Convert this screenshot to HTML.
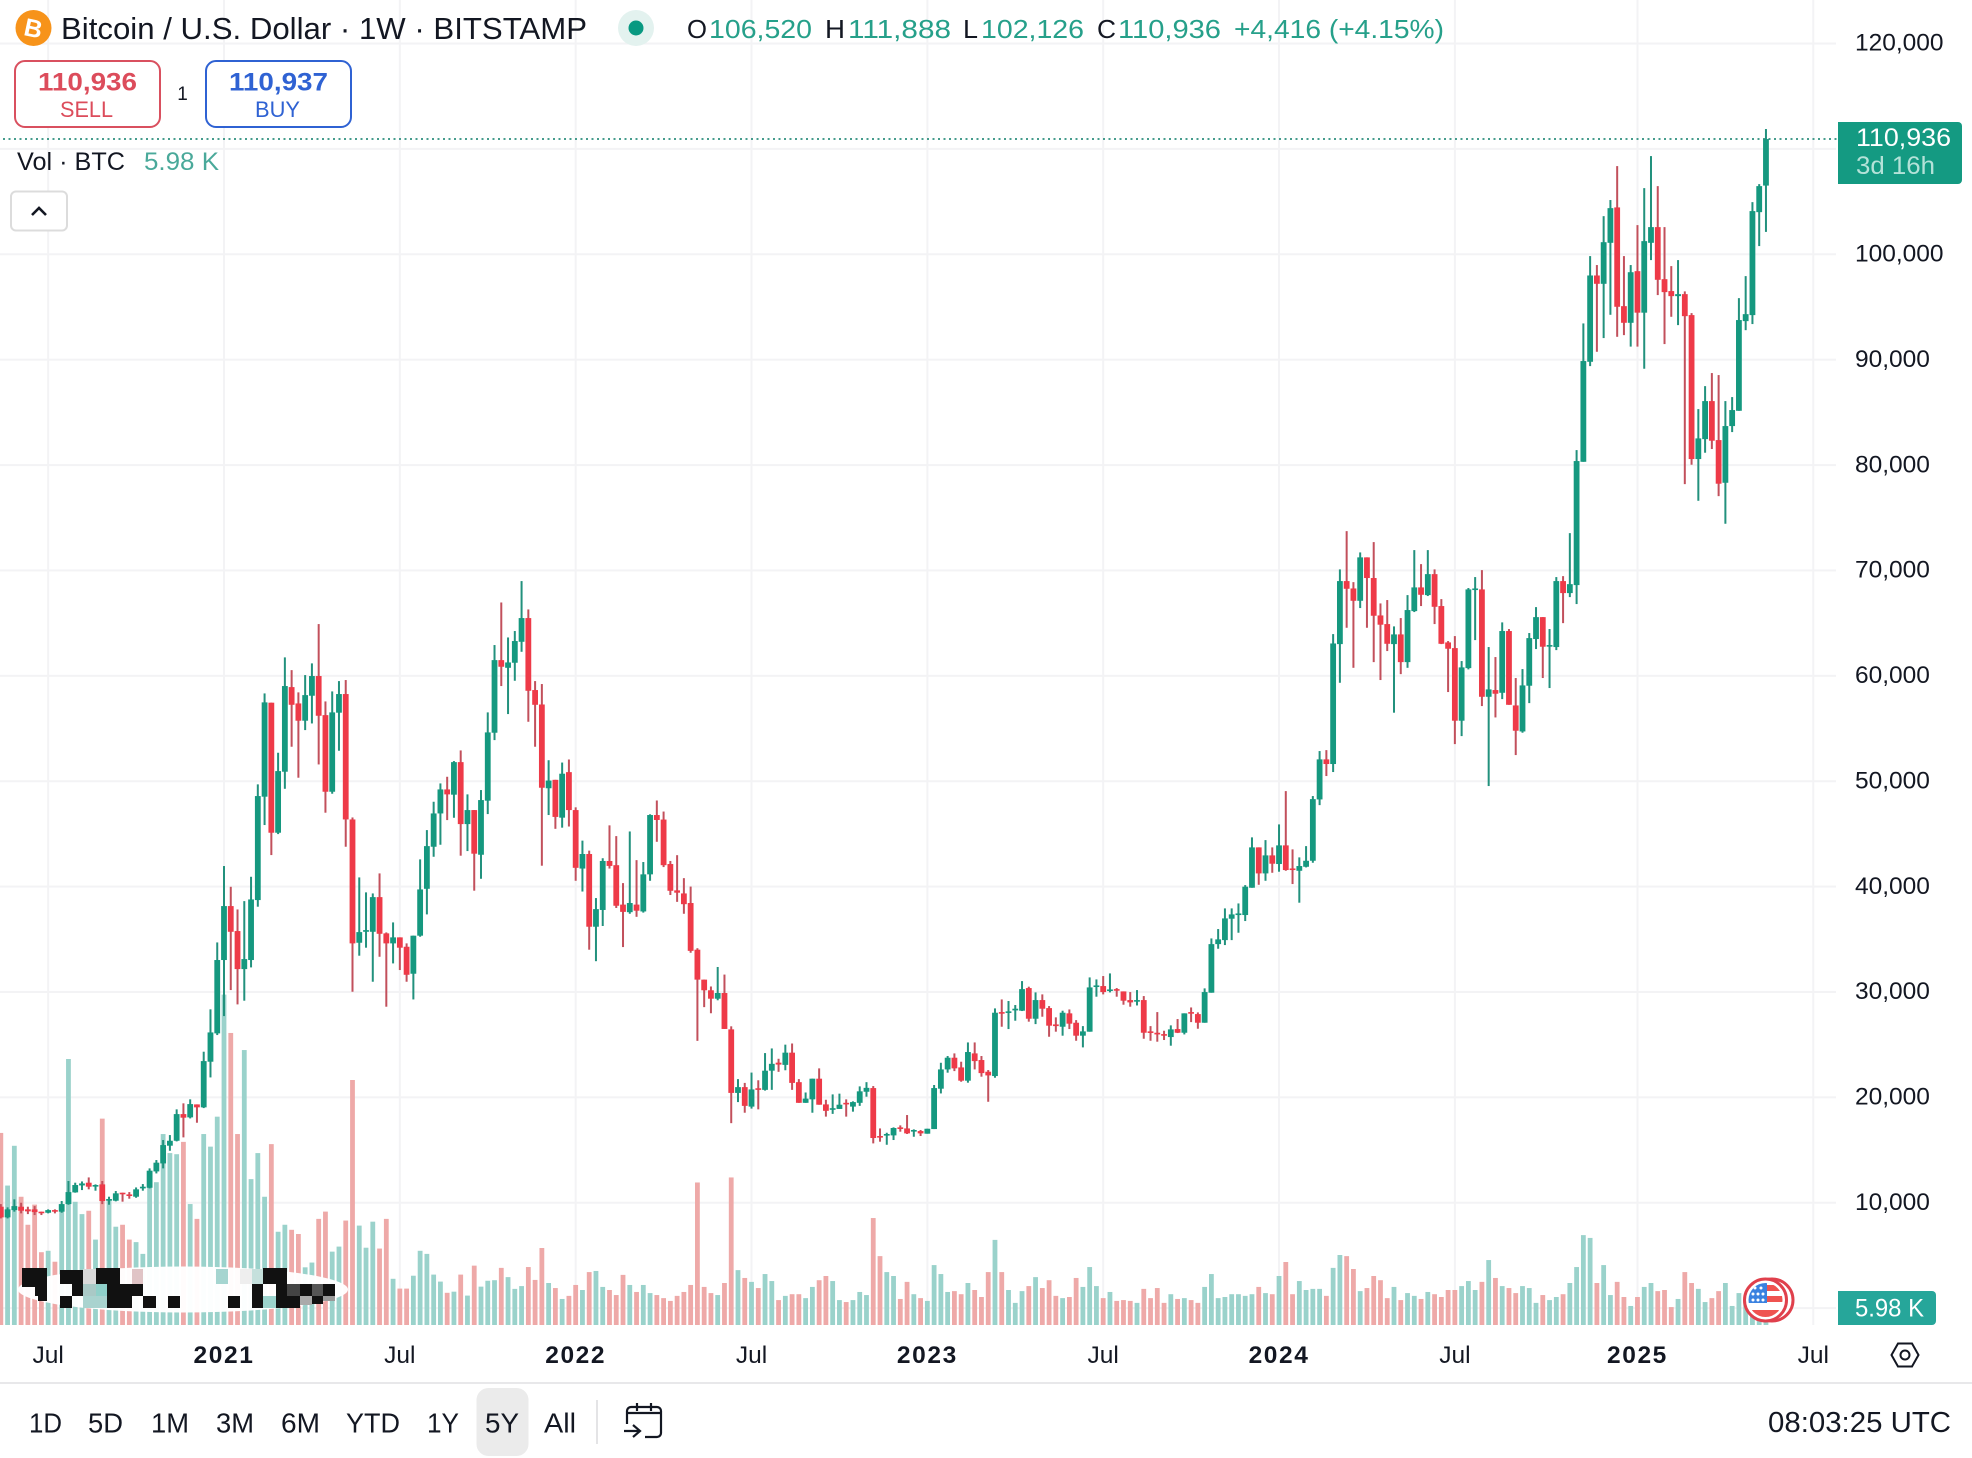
<!DOCTYPE html>
<html lang="en">
<head>
<meta charset="utf-8">
<title>Bitcoin / U.S. Dollar weekly chart</title>
<style>
html,body{margin:0;padding:0;background:#fff;width:1972px;height:1458px;overflow:hidden}
svg{display:block}
text{font-family:"Liberation Sans",sans-serif;fill:#131722}
</style>
</head>
<body>
<svg id="chart" xmlns="http://www.w3.org/2000/svg" width="1972" height="1458" viewBox="0 0 1972 1458">
  <rect x="0" y="0" width="1972" height="1458" fill="#ffffff"/>
  <g id="grid"></g>
  <g id="volumes"></g>
  <g id="candles"></g>

  <g>
    <ellipse cx="183" cy="1289.5" rx="165" ry="23" fill="#ffffff" opacity="0.97"/>
    <g fill="#111111">
      <rect x="22" y="1268" width="25" height="16"/><rect x="60" y="1270" width="23" height="14"/><rect x="96" y="1268" width="24" height="16"/><rect x="263" y="1268" width="24" height="16"/>
      <rect x="22" y="1283" width="14" height="4"/><rect x="35" y="1284" width="12" height="12"/><rect x="72" y="1284" width="11" height="12"/><rect x="107" y="1284" width="36" height="12"/><rect x="252" y="1284" width="11" height="12"/><rect x="276" y="1284" width="11" height="12"/><rect x="300" y="1284" width="12" height="12"/><rect x="323" y="1284" width="12" height="12"/>
      <rect x="60" y="1296" width="12" height="12"/><rect x="107" y="1296" width="25" height="12"/><rect x="143" y="1296" width="13" height="12"/><rect x="168" y="1296" width="12" height="12"/><rect x="228" y="1296" width="12" height="12"/><rect x="252" y="1296" width="11" height="12"/><rect x="276" y="1296" width="24" height="12"/><rect x="312" y="1296" width="11" height="8"/>
      <rect x="38" y="1296" width="9" height="5"/>
    </g>
    <rect x="83" y="1269" width="13" height="15" fill="#d9d9d9"/>
    <rect x="132" y="1269" width="11" height="15" fill="#e0c4c6"/>
    <rect x="216" y="1269" width="12" height="15" fill="#a5d5d0"/>
    <rect x="240" y="1269" width="12" height="15" fill="#eeeeee"/>
    <rect x="252" y="1269" width="11" height="15" fill="#c5e0dc"/>
    <rect x="287" y="1284" width="13" height="12" fill="#444444"/>
    <rect x="312" y="1284" width="11" height="12" fill="#555555"/>
    <rect x="83" y="1284" width="13" height="12" fill="#a9c9c6"/>
    <rect x="96" y="1284" width="11" height="12" fill="#8fd0c9"/>
    <rect x="83" y="1296" width="24" height="12" fill="#a9d3cf"/>
    <rect x="263" y="1296" width="13" height="12" fill="#9bd2cb"/>
    <rect x="300" y="1296" width="12" height="9" fill="#aaaaaa"/>
    <rect x="323" y="1296" width="12" height="5" fill="#999999"/>
  </g>

  <line x1="3" y1="139" x2="1837" y2="139" stroke="#2d8f7d" stroke-width="1.8" stroke-dasharray="2 3.5"/>

  <g id="priceAxis"></g>
  <g id="timeAxis"></g>

  <g>
    <circle cx="33.5" cy="28" r="18" fill="#f7931a"/>
    <text x="33.5" y="37" text-anchor="middle" font-size="25" font-weight="700" style="fill:#ffffff" transform="rotate(12 33.5 28)">B</text>
  </g>
  <text x="61" y="39" font-size="30.5" textLength="526" lengthAdjust="spacingAndGlyphs">Bitcoin / U.S. Dollar · 1W · BITSTAMP</text>
  <g>
    <circle cx="636" cy="28" r="18" fill="#e3f2ef"/>
    <circle cx="636" cy="28" r="7.5" fill="#089981"/>
  </g>

  <g font-size="26">
    <text x="687" y="38" textLength="20" lengthAdjust="spacingAndGlyphs">O</text>
    <text x="709" y="38" textLength="103" lengthAdjust="spacingAndGlyphs" style="fill:#26a08a">106,520</text>
    <text x="825" y="38" textLength="20" lengthAdjust="spacingAndGlyphs">H</text>
    <text x="848" y="38" textLength="103" lengthAdjust="spacingAndGlyphs" style="fill:#26a08a">111,888</text>
    <text x="963" y="38" textLength="15" lengthAdjust="spacingAndGlyphs">L</text>
    <text x="981" y="38" textLength="103" lengthAdjust="spacingAndGlyphs" style="fill:#26a08a">102,126</text>
    <text x="1097" y="38" textLength="19" lengthAdjust="spacingAndGlyphs">C</text>
    <text x="1118" y="38" textLength="103" lengthAdjust="spacingAndGlyphs" style="fill:#26a08a">110,936</text>
    <text x="1234" y="38" textLength="210" lengthAdjust="spacingAndGlyphs" style="fill:#26a08a">+4,416 (+4.15%)</text>
  </g>

  <g>
    <rect x="15" y="61" width="145" height="66" rx="10" fill="#ffffff" stroke="#d9505f" stroke-width="2"/>
    <text x="38" y="90.5" font-size="25" font-weight="700" textLength="99" lengthAdjust="spacingAndGlyphs" style="fill:#dc4c5b">110,936</text>
    <text x="60" y="117" font-size="22" textLength="53" lengthAdjust="spacingAndGlyphs" style="fill:#dc4c5b">SELL</text>
  </g>
  <text x="182.6" y="100" font-size="19" text-anchor="middle">1</text>
  <g>
    <rect x="206" y="61" width="145" height="66" rx="10" fill="#ffffff" stroke="#2f62d3" stroke-width="2"/>
    <text x="229" y="90.5" font-size="25" font-weight="700" textLength="99" lengthAdjust="spacingAndGlyphs" style="fill:#2f62d3">110,937</text>
    <text x="255" y="117" font-size="22" textLength="45" lengthAdjust="spacingAndGlyphs" style="fill:#2f62d3">BUY</text>
  </g>

  <text x="17" y="170" font-size="25" textLength="108" lengthAdjust="spacingAndGlyphs">Vol · BTC</text>
  <text x="144" y="170" font-size="25" textLength="75" lengthAdjust="spacingAndGlyphs" style="fill:#4aa99a">5.98 K</text>
  <g>
    <rect x="11" y="191.5" width="56" height="39" rx="5" fill="#ffffff" stroke="#dcdcdc" stroke-width="2"/>
    <path d="M32 215 L39 208 L46 215" fill="none" stroke="#131722" stroke-width="2.6"/>
  </g>

  <g>
    <path d="M1838 122 H1958 a4 4 0 0 1 4 4 V180 a4 4 0 0 1 -4 4 H1838 Z" fill="#149a82"/>
    <text x="1856" y="146" font-size="25" textLength="95" lengthAdjust="spacingAndGlyphs" style="fill:#ffffff">110,936</text>
    <text x="1856" y="174" font-size="25" textLength="79" lengthAdjust="spacingAndGlyphs" style="fill:#b4e2d8">3d 16h</text>
  </g>
  <g>
    <path d="M1838 1291 H1932 a4 4 0 0 1 4 4 V1321 a4 4 0 0 1 -4 4 H1838 Z" fill="#26a69a"/>
    <text x="1855" y="1316.7" font-size="25" textLength="69" lengthAdjust="spacingAndGlyphs" style="fill:#ffffff">5.98 K</text>
  </g>

  <g>
    <defs><clipPath id="flagClip"><circle cx="1765.5" cy="1300" r="17"/></clipPath></defs>
    <circle cx="1772" cy="1300" r="21" fill="#ffffff" stroke="#e0404c" stroke-width="3"/>
    <circle cx="1765.5" cy="1300" r="21" fill="#ffffff" stroke="#e0404c" stroke-width="3"/>
    <g clip-path="url(#flagClip)">
      <rect x="1748" y="1283" width="36" height="34" fill="#ffffff"/>
      <rect x="1765" y="1285" width="19" height="6" fill="#ef5350"/>
      <rect x="1765" y="1296" width="19" height="6" fill="#ef5350"/>
      <rect x="1748" y="1310" width="36" height="7" fill="#ef5350"/>
      <rect x="1748" y="1283" width="19" height="20" fill="#3b82e0"/>
      <circle cx="1755" cy="1288" r="1.5" fill="#fff"/><circle cx="1761" cy="1288" r="1.5" fill="#fff"/>
      <circle cx="1753" cy="1294" r="1.5" fill="#fff"/><circle cx="1758" cy="1294" r="1.5" fill="#fff"/><circle cx="1763" cy="1294" r="1.5" fill="#fff"/>
      <circle cx="1753" cy="1300" r="1.5" fill="#fff"/><circle cx="1758" cy="1300" r="1.5" fill="#fff"/><circle cx="1763" cy="1300" r="1.5" fill="#fff"/>
    </g>
  </g>

  <g>
    <path d="M1891.5 1355 L1898 1343.5 H1912 L1918.5 1355 L1912 1366.5 H1898 Z" fill="none" stroke="#131722" stroke-width="2"/>
    <circle cx="1905" cy="1355" r="4.5" fill="none" stroke="#131722" stroke-width="2"/>
  </g>

  <rect x="0" y="1382" width="1972" height="2" fill="#e8e8ea"/>
  <rect x="476.5" y="1388" width="52" height="68" rx="12" fill="#ebebeb"/>
  <g font-size="27.5">
    <text x="29" y="1432.5" textLength="33" lengthAdjust="spacingAndGlyphs">1D</text>
    <text x="88" y="1432.5" textLength="35" lengthAdjust="spacingAndGlyphs">5D</text>
    <text x="151" y="1432.5" textLength="38" lengthAdjust="spacingAndGlyphs">1M</text>
    <text x="216" y="1432.5" textLength="38" lengthAdjust="spacingAndGlyphs">3M</text>
    <text x="281" y="1432.5" textLength="39" lengthAdjust="spacingAndGlyphs">6M</text>
    <text x="346" y="1432.5" textLength="54" lengthAdjust="spacingAndGlyphs">YTD</text>
    <text x="427" y="1432.5" textLength="32" lengthAdjust="spacingAndGlyphs">1Y</text>
    <text x="485" y="1432.5" textLength="34" lengthAdjust="spacingAndGlyphs">5Y</text>
    <text x="544" y="1432.5" textLength="32" lengthAdjust="spacingAndGlyphs">All</text>
  </g>
  <rect x="596" y="1400" width="2" height="44" fill="#e4e4e6"/>
  <g fill="none" stroke="#131722" stroke-width="2.2">
    <path d="M627 1424 V1411 a4 4 0 0 1 4 -4 H657 a4 4 0 0 1 4 4 V1433 a4 4 0 0 1 -4 4 H645"/>
    <path d="M627 1413 H661"/>
    <path d="M637 1403 V1411 M651 1403 V1411"/>
    <path d="M624 1431 H639 M633 1425 L640 1431 L633 1437"/>
  </g>
  <text x="1768" y="1432" font-size="29" textLength="183" lengthAdjust="spacingAndGlyphs">08:03:25 UTC</text>
</svg>

<script>
const firstWeek = '2020-05-18';
const opens = [9620,8610,9300,9620,9370,9370,9150,9050,9300,9150,9870,10980,11640,11900,11580,11740,10190,10190,10950,10790,10570,11360,11420,12970,13730,15410,15880,18410,18100,19330,19050,23380,26070,
33030,38150,35780,32170,33030,38720,48530,57450,45110,50900,
58930,57380,55740,58110,59980,56270,49000,56500,58270,46370,
34670,35710,35710,39000,35560,34610,35180,34290,31730,35340,
39790,43780,46940,49220,48720,51810,45930,47260,43020,48150,
54600,61490,60760,61240,63230,65480,58650,57280,49330,50130,
46540,50860,47260,41710,43090,36190,37780,42430,42030,38290,
37570,38290,37640,41160,46790,46360,42140,39640,39350,38440,
34010,31170,30160,29360,29900,26450,20420,20970,19120,20860,
20710,22530,23290,23080,24240,21440,19480,19810,21770,19330,
18830,18900,19480,19120,19480,20530,20880,16330,16390,16390,
17150,17050,16770,16800,16550,16990,20820,22650,23760,22840,
21580,24170,23540,22430,22020,28090,28030,28250,28220,30370,
27460,29230,28470,26920,26700,27970,27080,25850,26230,30500,
30560,30120,30270,30050,29230,29100,29230,26260,26130,26000,
25720,26480,26130,28090,27900,27080,29930,34540,34920,36950,
37330,37300,39890,43720,41250,42960,42140,43910,41720,41500,
41880,42450,48270,52070,51630,63010,68990,68290,67120,71240,
69280,65730,64910,63010,63930,61300,66140,68390,67660,69650,
66620,63170,62630,55740,60730,68170,68200,58010,58650,58390,
64250,57190,54720,59060,63490,65570,62790,62730,68990,67850,
68610,80310,89800,97990,97200,101090,104450,95080,93500,98400,
94460,101090,102580,97640,96510,96030,96220,94230,80570,82460,
86070,82370,78320,83700,85150,93660,94230,104000,106520];
const highs = [9870,9560,10320,10000,9620,9680,9150,9370,9370,10160,12060,11900,12020,12400,11740,12060,10570,11110,10950,11010,11450,11770,13260,14050,15950,16420,18860,19430,19810,19330,24330,28350,34700,
41950,39980,37830,38620,40930,49700,58330,57450,52700,61750,
60540,58430,60070,61180,64910,57570,58520,59500,59600,46560,
40870,39450,39350,41250,35650,36600,35180,34610,35340,42580,
45360,48050,49790,50420,51910,52920,48750,47260,49160,56530,
62920,66960,63640,64250,68990,66300,59500,59220,51990,50130,
51770,52060,47520,44360,43410,38910,42690,45810,44790,40330,
45230,42510,42330,46860,48170,47120,42430,42980,40800,40000,
34150,31170,30520,32370,31650,26740,21730,21370,22350,21620,
24200,24640,23660,25000,25110,21730,20460,21770,22750,19770,
20280,20350,19810,19620,21040,21440,21070,17050,16640,17150,
17340,18320,16960,16900,17020,21170,23280,23920,24170,23380,
25210,25210,23920,22590,28440,29290,29140,28760,31030,30500,
29960,29770,28660,27590,28220,28340,27330,26760,31380,31190,
31510,31760,30370,30050,29990,30180,29610,26760,28090,26320,
26830,27430,27970,28530,28060,30340,35080,35970,37930,37930,
38400,40140,44670,43720,44410,43720,45900,49060,43530,42770,
43840,48590,52860,52950,63960,70100,73730,68890,71710,71240,
72690,66870,67190,64690,65480,67660,71930,70600,71930,70100,
67280,63300,63770,61400,68330,69370,70030,62730,61780,65070,
64440,59790,60640,64060,66520,65570,64440,69370,69460,73540,
81420,93440,99830,98980,103620,105150,108370,99830,98980,102770,
106280,109320,106470,102580,98880,99450,96480,94420,85310,87490,
88730,88540,86070,86450,95840,97930,104950,106660,111888];
const lows = [8510,8510,9150,8990,8920,8830,8830,8990,8990,9050,9810,10950,11200,11270,11140,9870,9810,10130,10100,10380,10470,11140,11360,12780,13260,14930,15820,16200,18000,17590,18980,21890,25910,
27710,30180,28820,29170,32330,38090,45840,42990,44980,49280,
53270,50330,54850,55480,51590,47010,48810,52890,43780,30020,
33440,34200,30970,33340,28600,32710,32080,30970,29290,35240,
37360,42830,43970,46310,46530,42930,43370,39610,40740,46880,
53900,59030,56370,59530,62280,55640,53270,41980,46790,45480,
45590,45700,40550,39530,34010,32920,36260,41710,37970,34260,
37420,37130,37530,40550,44250,41850,39200,38550,37420,33720,
25360,28560,27980,29210,26490,17550,19550,18540,18930,18860,
20640,20710,22420,22570,20710,19480,19480,18540,19300,18170,
18430,18900,18170,18640,19190,20060,15630,15790,15500,15950,
16740,16520,16260,16330,16550,16990,20370,22340,22490,21480,
21390,22650,21960,19580,21860,26700,26480,27270,28190,27180,
26950,27650,25750,26230,25850,26480,25370,24740,26230,29550,
29770,29960,29550,28790,28600,28720,25560,25370,25280,25440,
24900,26100,25970,27140,26510,27080,29930,34100,34450,34920,
35620,36730,39890,40170,40550,41310,41410,41500,40240,38470,
41820,42260,47730,50490,50870,59340,64560,60760,66430,64560,
61300,59600,62350,56500,60160,60760,66050,66620,67570,64910,
63010,58460,53520,54280,60610,63390,57130,49540,56050,57790,
57250,52480,54600,57410,62540,59790,58840,62440,65000,67470,
66810,80310,89390,90750,92050,94260,92170,92330,91240,91240,
89140,99450,96130,91480,94070,93280,78190,80030,76610,81170,
81520,77050,74430,83130,85150,92800,93380,100780,102126];
const closes = [8610,9370,9680,9240,9180,9110,9050,9300,9210,9870,11010,11680,11830,11520,11680,10160,10350,10890,10820,10660,11270,11520,13040,13800,15470,15880,18410,18070,19360,19050,23440,26160,33030,
38150,35710,32170,33120,38780,48590,57480,45110,50960,59030,
57250,55740,58170,59980,56210,49000,56530,58270,46370,34610,
35680,35870,39000,35520,34610,35180,34200,31630,35340,39730,
43840,46940,49220,48750,51810,45930,47260,43120,48210,54630,
61490,60860,61270,63300,65480,58580,57250,49380,50060,46610,
50710,47260,41780,43090,36190,37860,42430,41960,38180,37600,
38440,37710,41160,46790,46320,42030,39600,39420,38330,33900,
31170,30160,29360,29900,26490,20420,20970,19190,20750,20710,
22530,23180,23110,24240,21370,19480,19880,21770,19300,18720,
18970,19300,19330,19550,20570,20900,16140,16200,16520,17090,
17020,16580,16900,16580,17020,20880,22650,23760,22750,21580,
24300,23440,22300,22080,28030,27970,28160,28410,30270,27460,
29230,28410,26800,26760,28030,26990,25850,26260,30430,30620,
29990,30240,30150,29170,29010,29230,26130,26160,25970,25850,
26450,26130,27970,27970,27080,29990,34540,34990,36980,37360,
37450,39990,43720,41250,42960,42170,43910,41570,41600,41950,
42450,48300,52070,51630,63070,68990,68260,67120,71240,69280,
65700,64850,63040,63930,61300,66240,68390,67690,69650,66550,
63040,62570,55740,60800,68200,68290,58010,58710,58300,64250,
57250,54790,59090,63580,65570,62760,62920,68990,67850,68700,
80380,89870,97990,97200,101150,104380,95020,93500,98300,94460,
101250,102580,97580,96410,96030,96220,94130,80570,82530,86070,
82310,78230,83700,85220,93760,94320,104100,106470,110936];
const volumes = [68.6,49.8,64,45.8,35.8,43,26,26.5,22.6,41.4,95,44,39.6,40.8,30.5,73.7,44.4,35.1,35.8,30.5,29.6,25.4,55,51,68.2,61.4,61,65.4,43.2,37.9,68.2,63.7,74.4,
118,104.3,68.2,98.2,52.1,61.4,45.8,64.6,33.3,35.8,
34,32.5,20.6,22.3,37.9,40.5,26.2,28,37.3,87.5,
35.5,27.6,36.9,27.3,37.9,16.5,13,13,17.6,26.5,
25.4,18,15.5,11.5,11.9,18,10.5,21.2,13.7,15.8,
16,20.4,17.1,12.9,13.9,20.7,16.1,27.5,15,13.2,
9.3,10.4,14.3,12.5,18.9,19.3,13.6,12.5,10.7,17.9,
14.3,11.8,14.3,11.4,10.7,9.6,8.6,10.4,11.8,14.3,
50.9,13.6,11.4,10.7,15,52.7,19.6,16.8,15.4,13.2,
18.2,15.7,8.9,10.4,11,11,9.6,13.6,16,17.5,
15.7,8.9,8.2,8.9,11.8,10.7,38.2,24.6,18.9,17.5,
9.3,15.4,11,9.6,8.6,21.4,18.2,11.8,12.1,11,
15,12.5,10,18.9,30.4,18.9,12.5,7.9,12.1,13.9,
17.1,13.2,16,10.4,9.6,10,16.8,13.6,20.7,13.9,
9.6,11.8,8.6,8.9,8.6,7.9,12.9,9.6,13.2,7.9,
11,9.3,9.6,8.9,7.9,13.6,18.2,9.6,10,11,
11,10.4,11,13.6,11.4,11,17.5,22.5,11,15.7,
12.5,12.9,12.9,10.4,20.4,25,24.6,20,12.1,13.2,
17.5,16,9.6,13.6,8.9,11.4,10.4,9.3,11.8,11,
10,12.5,12.5,13.9,15.7,12.5,15.4,23.2,16.8,13.9,
13.2,11.4,13.9,13.2,7.9,10.7,8.9,10,11,15,
20.7,32.1,31.1,15,21.4,10.7,15.4,10,6.8,10,
13.6,15,12.1,12.5,6.4,9.3,18.9,15,12.9,8.2,
9.6,12.1,15,6.8,11.4,8.9,5.4,3.6,5.98];
const priceTicks = [10000,20000,30000,40000,50000,60000,70000,80000,90000,100000,120000];
const gridOnlyPrices = [0,110000];
const timeTickDates = ['2020-07-06','2021-01-04','2021-07-05','2022-01-03','2022-07-04','2023-01-02','2023-07-03','2024-01-01','2024-07-01','2025-01-06','2025-07-07'];
const timeTickLabels = ['Jul','2021','Jul','2022','Jul','2023','Jul','2024','Jul','2025','Jul'];

const NS = 'http://www.w3.org/2000/svg';
const plotRight = 1836;
const volumeBase = 1325;
const barStep = 6.763;
const firstBarX = 0.82;
const priceToY = function (v) { return 1308.1 - v * 0.010538; };
const volumeToY = function (k) { return volumeBase - k * 2.8; };
const indexToX = function (i) { return firstBarX + barStep * i; };
const dateToX = function (d) { return indexToX((Date.parse(d) - Date.parse(firstWeek)) / 604800000); };
const formatPrice = function (v) { return String(v).replace(/\B(?=(\d{3})+$)/g, ','); };

function make(tag, attrs) {
  const el = document.createElementNS(NS, tag);
  Object.keys(attrs).forEach(function (k) { el.setAttribute(k, attrs[k]); });
  return el;
}

const gridLayer = document.getElementById('grid');
priceTicks.concat(gridOnlyPrices).forEach(function (v) {
  const line = make('rect', { x: 0, y: priceToY(v) - 1, width: plotRight, height: 2, fill: '#f3f3f5' });
  
  
  gridLayer.appendChild(line);
});
timeTickDates.forEach(function (d) {
  const line = make('rect', { x: dateToX(d) - 1, y: 0, width: 2, height: volumeBase, fill: '#f3f3f5' });
  
  
  gridLayer.appendChild(line);
});

const volumeLayer = document.getElementById('volumes');
volumes.forEach(function (k, i) {
  const up = closes[i] >= opens[i];
  const top = volumeToY(k);
  const bar = make('rect', { x: indexToX(i) - 2.4, y: top, width: 4.8, height: volumeBase - top, fill: up ? '#9ad2cb' : '#eea9a8' });
  
  
  volumeLayer.appendChild(bar);
});

const candleLayer = document.getElementById('candles');
opens.forEach(function (o, i) {
  const c = closes[i];
  const up = c >= o;
  const x = indexToX(i);
  const hi = priceToY(highs[i]);
  const lo = priceToY(lows[i]);
  const bt = priceToY(Math.max(o, c));
  const bb = priceToY(Math.min(o, c));
  const g = make('g', {});
  
  
  g.appendChild(make('rect', { x: x - 1, y: hi, width: 2, height: Math.max(lo - hi, 1), fill: up ? '#22917d' : '#c2505c' }));
  g.appendChild(make('rect', { x: x - 2.9, y: bt, width: 5.8, height: Math.max(bb - bt, 1.6), fill: up ? '#15987f' : '#ee3a48' }));
  candleLayer.appendChild(g);
});

const priceAxis = document.getElementById('priceAxis');
priceTicks.forEach(function (v) {
  const t = make('text', { x: 1855, y: priceToY(v) + 7.2, 'font-size': 24.5 });
  
  
  t.textContent = formatPrice(v);
  priceAxis.appendChild(t);
});

const timeAxis = document.getElementById('timeAxis');
timeTickLabels.forEach(function (label, i) {
  const isYear = /^\d+$/.test(label);
  const t = make('text', { x: dateToX(timeTickDates[i]), y: 1363, 'font-size': 24.5, 'text-anchor': 'middle', 'font-weight': isYear ? 700 : 400, 'letter-spacing': isYear ? 1.6 : 0 });
  
  
  t.textContent = label;
  timeAxis.appendChild(t);
});
</script>
</body>
</html>
